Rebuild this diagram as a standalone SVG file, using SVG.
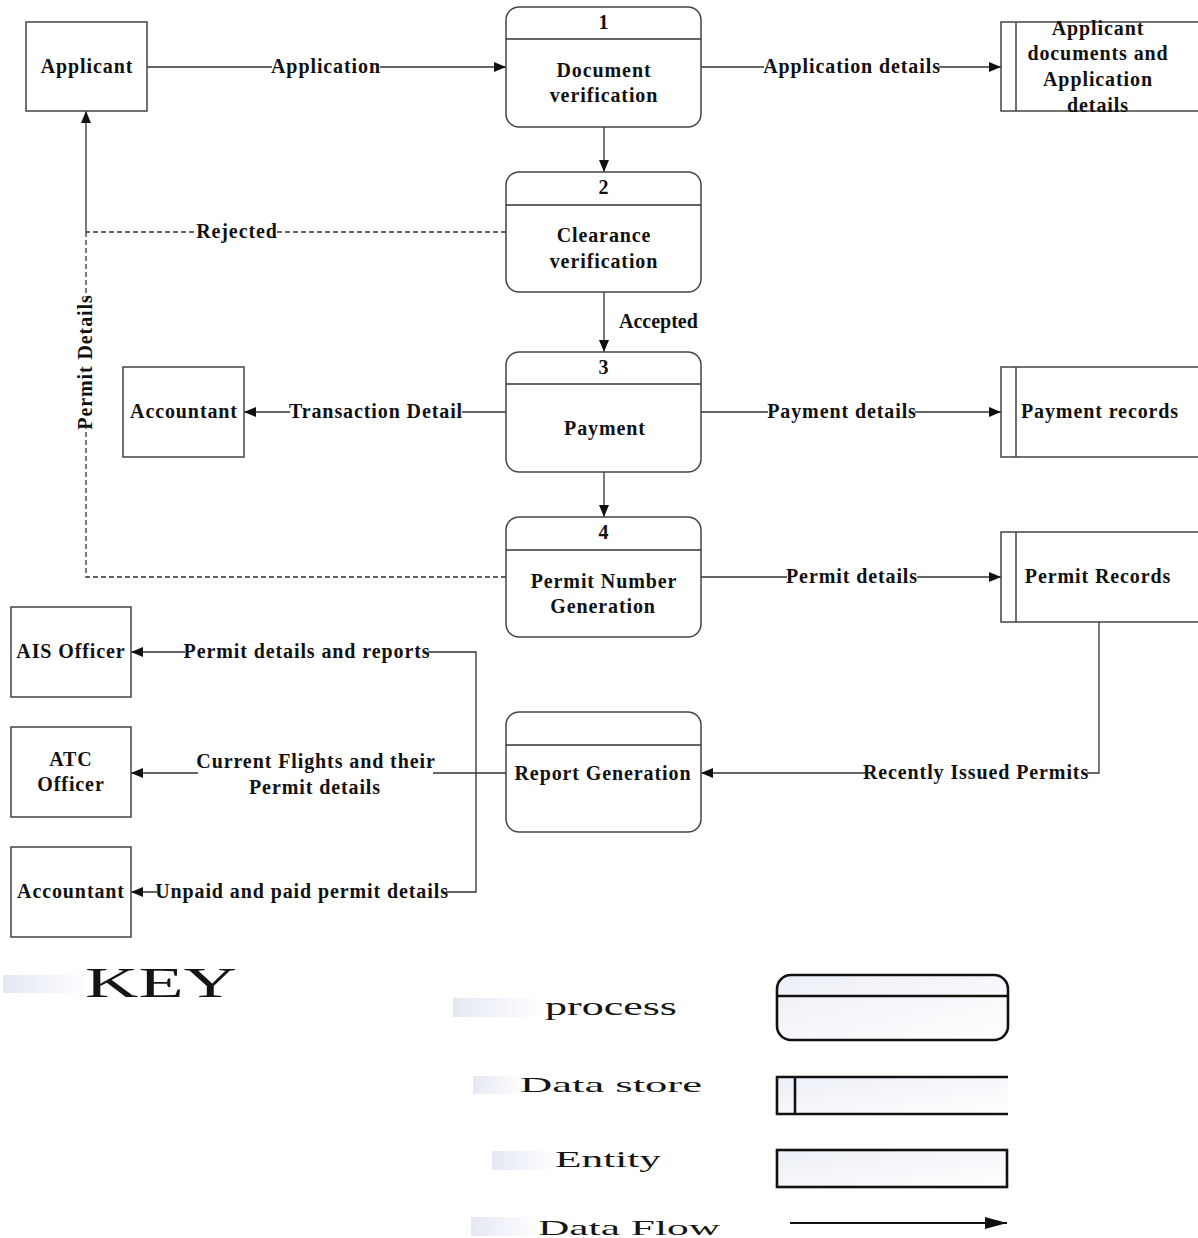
<svg xmlns="http://www.w3.org/2000/svg" width="1198" height="1238" viewBox="0 0 1198 1238">
  <defs>
    <marker id="arr" viewBox="0 0 12 10" refX="12" refY="5" markerWidth="12" markerHeight="10" markerUnits="userSpaceOnUse" orient="auto">
      <path d="M0,0 L12,5 L0,10 Z" fill="#111"/>
    </marker>
    <marker id="arrBig" viewBox="0 0 22 12" refX="22" refY="6" markerWidth="22" markerHeight="12" markerUnits="userSpaceOnUse" orient="auto">
      <path d="M0,0 L22,6 L0,12 Z" fill="#111"/>
    </marker>
    <linearGradient id="bar" x1="0" y1="0" x2="1" y2="0">
      <stop offset="0" stop-color="#e4e8f3"/>
      <stop offset="1" stop-color="#ffffff"/>
    </linearGradient>
    <linearGradient id="keyFill" x1="0" y1="0" x2="1" y2="1">
      <stop offset="0" stop-color="#eceff6"/>
      <stop offset="1" stop-color="#ffffff"/>
    </linearGradient>
    <style>
      .ent { fill: #fff; stroke: #444; stroke-width: 1.5; }
      .proc { fill: #fff; stroke: #444; stroke-width: 1.5; }
      .div { stroke: #333; stroke-width: 1.5; fill: none; }
      .store { fill: none; stroke: #444; stroke-width: 1.5; }
      .t { font-family: "Liberation Serif", "Times New Roman", serif; font-weight: bold; font-size: 20px; letter-spacing: 0.9px; fill: #111; text-anchor: middle; }
      .flow { fill: none; stroke: #333; stroke-width: 1.3; }
      .dash { stroke-dasharray: 5 3; }
      .bg { fill: #fff; }
      .key { font-family: "Liberation Serif", "Times New Roman", serif; fill: #151515; }
      .kshape { fill: url(#keyFill); stroke: #111; stroke-width: 2.6; }
    </style>
  </defs>

  <rect width="1198" height="1238" fill="#fff"/>

  <!-- data flows -->
  <g id="connectors">
    <path class="flow" d="M147,67 H506" marker-end="url(#arr)"/>
    <path class="flow" d="M701,67 H1001" marker-end="url(#arr)"/>
    <path class="flow" d="M604,127 V172" marker-end="url(#arr)"/>
    <path class="flow" d="M604,292 V352" marker-end="url(#arr)"/>
    <path class="flow" d="M604,472 V517" marker-end="url(#arr)"/>
    <!-- rejected / permit details share the final leg up to the applicant -->
    <path class="flow dash" d="M506,232 H86"/>
    <path class="flow dash" d="M506,577 H86 V232"/>
    <path class="flow" d="M86,232 V111" marker-end="url(#arr)"/>
    <path class="flow" d="M506,412 H244" marker-end="url(#arr)"/>
    <path class="flow" d="M701,412 H1001" marker-end="url(#arr)"/>
    <path class="flow" d="M701,577 H1001" marker-end="url(#arr)"/>
    <path class="flow" d="M1099,622 V773 H701" marker-end="url(#arr)"/>
    <path class="flow" d="M506,773 H131" marker-end="url(#arr)"/>
    <path class="flow" d="M476,773 V652 H131" marker-end="url(#arr)"/>
    <path class="flow" d="M476,773 V892 H131" marker-end="url(#arr)"/>

    <!-- flow labels -->
    <rect class="bg" x="272" y="57" width="108" height="20"/>
    <text class="t" x="326" y="73">Application</text>
    <rect class="bg" x="764" y="57" width="175" height="20"/>
    <text class="t" x="852" y="73">Application details</text>
    <rect class="bg" x="197" y="222" width="80" height="20"/>
    <text class="t" x="237" y="238">Rejected</text>
    <text class="t" x="619" y="328" style="text-anchor:start;letter-spacing:0">Accepted</text>
    <rect class="bg" x="290" y="402" width="172" height="20"/>
    <text class="t" x="376" y="418">Transaction Detail</text>
    <rect class="bg" x="768" y="402" width="147" height="20"/>
    <text class="t" x="842" y="418">Payment details</text>
    <rect class="bg" x="787" y="567" width="130" height="20"/>
    <text class="t" x="852" y="583">Permit details</text>
    <rect class="bg" x="76" y="297" width="20" height="131"/>
    <text class="t" transform="translate(92,362) rotate(-90)" x="0" y="0">Permit Details</text>
    <rect class="bg" x="865" y="763" width="222" height="20"/>
    <text class="t" x="976" y="779">Recently Issued Permits</text>
    <rect class="bg" x="185" y="642" width="243" height="20"/>
    <text class="t" x="307" y="658">Permit details and reports</text>
    <rect class="bg" x="198" y="750" width="235" height="48"/>
    <text class="t" x="316" y="768">Current Flights and their</text>
    <text class="t" x="315" y="794">Permit details</text>
    <rect class="bg" x="157" y="882" width="289" height="20"/>
    <text class="t" x="302" y="898">Unpaid and paid permit details</text>
  </g>

  <!-- external entities -->
  <g id="applicant">
    <rect class="ent" x="26" y="22" width="121" height="89"/>
    <text class="t" x="87" y="73">Applicant</text>
  </g>
  <g id="accountant-payment">
    <rect class="ent" x="123" y="367" width="121" height="90"/>
    <text class="t" x="184" y="418">Accountant</text>
  </g>
  <g id="ais-officer">
    <rect class="ent" x="11" y="607" width="120" height="90"/>
    <text class="t" x="71" y="658">AIS Officer</text>
  </g>
  <g id="atc-officer">
    <rect class="ent" x="11" y="727" width="120" height="90"/>
    <text class="t" x="71" y="766">ATC</text>
    <text class="t" x="71" y="791">Officer</text>
  </g>
  <g id="accountant-report">
    <rect class="ent" x="11" y="847" width="120" height="90"/>
    <text class="t" x="71" y="898">Accountant</text>
  </g>

  <!-- processes -->
  <g id="p1-document-verification">
    <rect class="proc" x="506" y="7" width="195" height="120" rx="13"/>
    <line class="div" x1="506" y1="39" x2="701" y2="39"/>
    <text class="t" x="604" y="29">1</text>
    <text class="t" x="604" y="77">Document</text>
    <text class="t" x="604" y="102">verification</text>
  </g>
  <g id="p2-clearance-verification">
    <rect class="proc" x="506" y="172" width="195" height="120" rx="13"/>
    <line class="div" x1="506" y1="205" x2="701" y2="205"/>
    <text class="t" x="604" y="194">2</text>
    <text class="t" x="604" y="242">Clearance</text>
    <text class="t" x="604" y="268">verification</text>
  </g>
  <g id="p3-payment">
    <rect class="proc" x="506" y="352" width="195" height="120" rx="13"/>
    <line class="div" x1="506" y1="384" x2="701" y2="384"/>
    <text class="t" x="604" y="374">3</text>
    <text class="t" x="605" y="435">Payment</text>
  </g>
  <g id="p4-permit-number">
    <rect class="proc" x="506" y="517" width="195" height="120" rx="13"/>
    <line class="div" x1="506" y1="550" x2="701" y2="550"/>
    <text class="t" x="604" y="539">4</text>
    <text class="t" x="604" y="588">Permit Number</text>
    <text class="t" x="603" y="613">Generation</text>
  </g>
  <g id="p-report-generation">
    <rect class="proc" x="506" y="712" width="195" height="120" rx="13"/>
    <line class="div" x1="506" y1="745" x2="701" y2="745"/>
    <text class="t" x="603" y="780">Report Generation</text>
  </g>

  <!-- data stores -->
  <g id="ds-applicant-documents">
    <path class="store" d="M1198,22 H1001 V111 H1198 M1016,22 V111"/>
    <text class="t" x="1098" y="35">Applicant</text>
    <text class="t" x="1098" y="60">documents and</text>
    <text class="t" x="1098" y="86">Application</text>
    <text class="t" x="1098" y="112">details</text>
  </g>
  <g id="ds-payment-records">
    <path class="store" d="M1198,367 H1001 V457 H1198 M1016,367 V457"/>
    <text class="t" x="1100" y="418">Payment records</text>
  </g>
  <g id="ds-permit-records">
    <path class="store" d="M1198,532 H1001 V622 H1198 M1016,532 V622"/>
    <text class="t" x="1098" y="583">Permit Records</text>
  </g>

  <!-- key -->
  <g id="key">
    <rect x="3" y="975" width="88" height="18" fill="url(#bar)"/>
    <text class="key" x="85" y="997" font-size="42" textLength="152" lengthAdjust="spacingAndGlyphs">KEY</text>

    <rect x="453" y="998" width="90" height="19" fill="url(#bar)"/>
    <text class="key" x="545" y="1015" font-size="26" textLength="132" lengthAdjust="spacingAndGlyphs">process</text>
    <rect class="kshape" x="777" y="975" width="231" height="65" rx="14"/>
    <line x1="777" y1="996" x2="1008" y2="996" stroke="#111" stroke-width="2.6"/>

    <rect x="473" y="1076" width="50" height="18" fill="url(#bar)"/>
    <text class="key" x="520" y="1092" font-size="22" textLength="182" lengthAdjust="spacingAndGlyphs">Data store</text>
    <rect x="777" y="1077" width="231" height="37" fill="url(#keyFill)"/>
    <path d="M1008,1077 H777 V1114 H1008 M795,1077 V1114" fill="none" stroke="#111" stroke-width="2.6"/>

    <rect x="492" y="1151" width="63" height="19" fill="url(#bar)"/>
    <text class="key" x="555" y="1167" font-size="23" textLength="106" lengthAdjust="spacingAndGlyphs">Entity</text>
    <rect class="kshape" x="777" y="1150" width="230" height="37"/>

    <rect x="471" y="1217" width="68" height="19" fill="url(#bar)"/>
    <text class="key" x="538" y="1235" font-size="21" textLength="182" lengthAdjust="spacingAndGlyphs">Data Flow</text>
    <line x1="790" y1="1223" x2="1007" y2="1223" stroke="#111" stroke-width="2" marker-end="url(#arrBig)"/>
  </g>
</svg>
